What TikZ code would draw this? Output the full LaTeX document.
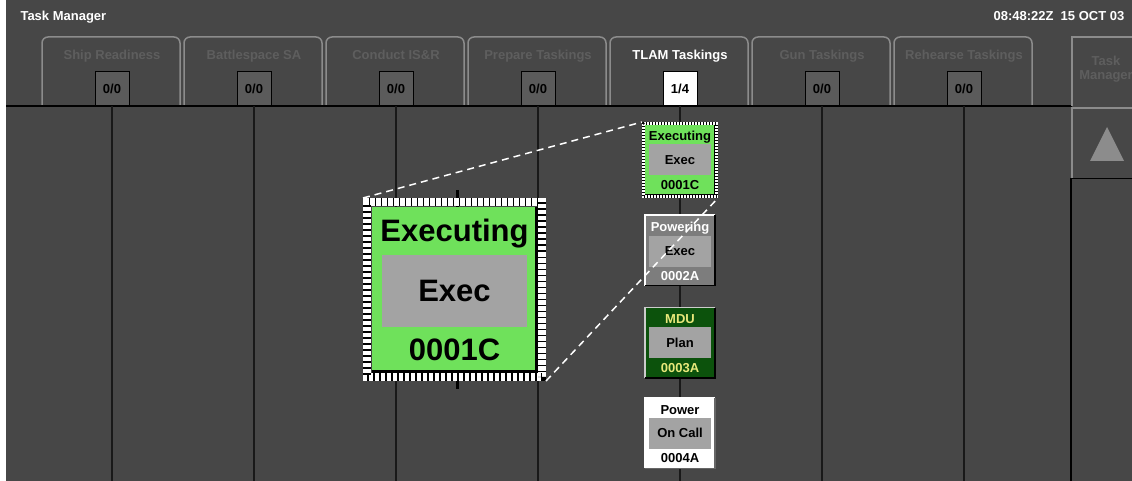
\documentclass[tikz,border=0pt]{standalone}
\usepackage{fontspec}
\setmainfont{Liberation Sans}
\usetikzlibrary{positioning}
\definecolor{panelgray}{HTML}{474747}
\definecolor{tabline}{HTML}{8C8C8C}
\definecolor{dimtext}{HTML}{5E5E5E}
\definecolor{cntgray}{HTML}{5B5B5B}
\definecolor{execgreen}{HTML}{6FE15B}
\definecolor{boxgray}{HTML}{A3A3A3}
\definecolor{powgray}{HTML}{7D7D7D}
\definecolor{mdugreen}{HTML}{0C520C}
\definecolor{mduyellow}{HTML}{E8E87A}
\begin{document}
\begin{tikzpicture}[x=1pt,y=-1pt,
        headtext/.style={font=\fontsize{13}{15}\selectfont\bfseries,text=white,anchor=base west},
        tabedge/.style={draw=tabline,line width=1.5pt,rounded corners=6pt},
        tablabel/.style={font=\fontsize{13}{15}\selectfont\bfseries,text=dimtext,anchor=base},
        countbox/.style={draw=black,fill=cntgray,line width=1pt,minimum width=34pt,
            minimum height=34pt,inner sep=0pt,font=\fontsize{13}{15}\selectfont\bfseries},
        colline/.style={draw=black!90,line width=2pt},
        card/.style={minimum width=70pt,minimum height=70pt,inner sep=0pt},
        cardbox/.style={fill=boxgray,minimum width=62pt,minimum height=31pt,inner sep=0pt,
            font=\fontsize{13}{15}\selectfont\bfseries},
        cardtext/.style={font=\fontsize{13}{15}\selectfont\bfseries,anchor=base},
        bigtext/.style={font=\fontsize{31}{36}\selectfont\bfseries},
        selbox/.style={draw=white,inner sep=0pt,postaction={draw=black,dash pattern=#1}},
        zoomline/.style={draw=white,line width=1.5pt,dash pattern=on 7pt off 5pt}]
    \useasboundingbox (0,0) rectangle (1132,481);
    \clip (0,0) rectangle (1132,481);
    %% Background
    \fill[panelgray] (0,0) rectangle (1132,481);
    \fill[white] (0,0) rectangle (6,481);
    \coordinate (bot) at (0,481);
    %% Header
    \node[headtext] (title) at (17,21) {Task Manager};
    \node[headtext] (clock) at (990,21) {08:48:22Z\ \ 15 OCT 03};
    %% Tabs
    \draw[tabedge] (42,106) |- (180,37) -- (180,106);
    \node[tablabel] (ship) at (112,60) {Ship Readiness};
    \node[countbox] (cnt1) at (112,89) {0/0};
    \draw[tabedge] (184,106) |- (322,37) -- (322,106);
    \node[tablabel] (bsa) at (254,60) {Battlespace SA};
    \node[countbox] (cnt2) at (254,89) {0/0};
    \draw[tabedge] (326,106) |- (464,37) -- (464,106);
    \node[tablabel] (isr) at (396,60) {Conduct IS\&R};
    \node[countbox] (cnt3) at (396,89) {0/0};
    \draw[tabedge] (468,106) |- (606,37) -- (606,106);
    \node[tablabel] (prep) at (538,60) {Prepare Taskings};
    \node[countbox] (cnt4) at (538,89) {0/0};
    \draw[tabedge] (610,106) |- (748,37) -- (748,106);
    \node[tablabel,text=white] (tlam) at (680,60) {TLAM Taskings};
    \node[countbox,fill=white] (cnt5) at (680,89) {1/4};
    \draw[tabedge] (752,106) |- (890,37) -- (890,106);
    \node[tablabel] (gun) at (822,60) {Gun Taskings};
    \node[countbox] (cnt6) at (822,89) {0/0};
    \draw[tabedge] (894,106) |- (1032,37) -- (1032,106);
    \node[tablabel] (reh) at (964,60) {Rehearse Taskings};
    \node[countbox] (cnt7) at (964,89) {0/0};
    \draw[black,line width=2pt] (6,106.5) -- (1072,106.5);
    %% Task Manager button and scroll box
    \draw[tabline,line width=1.5pt] (1072,106) |- (1140,37);
    \node[tablabel] (tmbtn) at (1106,66) {Task};
    \node[tablabel] (tmbtn2) at (1106,80) {Manager};
    \draw[tabline,line width=1.5pt] (1072,178) |- (1140,108);
    \draw[black,line width=1.5pt] (1072,178.5) -- (1140,178.5);
    \fill[tabline] (1107,127) -- (1124,161) -- (1090,161) -- cycle;
    \draw[black,line width=1.5pt] (1071,178) -- (1071,481);
    %% Columns
    \draw[colline] (cnt1.south) -- (cnt1.south |- bot);
    \draw[colline] (cnt2.south) -- (cnt2.south |- bot);
    \draw[colline] (cnt3.south) -- (cnt3.south |- bot);
    \draw[colline] (cnt4.south) -- (cnt4.south |- bot);
    \draw[colline] (cnt5.south) -- (cnt5.south |- bot);
    \draw[colline] (cnt6.south) -- (cnt6.south |- bot);
    \draw[colline] (cnt7.south) -- (cnt7.south |- bot);
    %% Task cards
    \node[card,fill=execgreen] (c1) at (680,160) {};
    \node[card,fill=powgray,below=20pt of c1] (c2) {};
    \node[card,fill=mdugreen,below=22pt of c2] (c3) {};
    \node[card,fill=white,below=20pt of c3] (c4) {};
    \draw[black,line width=1.5pt] (c1.south west) -| (c1.north east);
    \draw[white,line width=1.5pt] (c2.south west) |- (c2.north east);
    \draw[black,line width=1.5pt] (c2.south west) -| (c2.north east);
    \draw[white!80!black,line width=1.5pt] (c3.south west) |- (c3.north east);
    \draw[black,line width=1.5pt] (c3.south west) -| (c3.north east);
    \draw[white,line width=1.5pt] (c4.south west) |- (c4.north east);
    \draw[black!60,line width=1.5pt] (c4.south west) -| (c4.north east);
    \node[cardbox] (b1) at (c1) {Exec};
    \node[cardbox] (b2) at ([yshift=-1pt]c2.center) {Exec};
    \node[cardbox] (b3) at (c3) {Plan};
    \node[cardbox] (b4) at (c4) {On Call};
    \node[cardtext] (s1) at ([yshift=-15.5pt]c1.north) {Executing};
    \node[cardtext] (n1) at ([yshift=5.5pt]c1.south) {0001C};
    \node[cardtext,text=white] (s2) at ([yshift=-16pt]c2.north) {Powering};
    \node[cardtext,text=white] (n2) at ([yshift=5.5pt]c2.south) {0002A};
    \node[cardtext,text=mduyellow] (s3) at ([yshift=-16pt]c3.north) {MDU};
    \node[cardtext,text=mduyellow] (n3) at ([yshift=5.5pt]c3.south) {0003A};
    \node[cardtext] (s4) at ([yshift=-16pt]c4.north) {Power};
    \node[cardtext] (n4) at ([yshift=5.5pt]c4.south) {0004A};
    \node[selbox={on 0.8pt off 2.2pt},line width=3pt,minimum size=73pt] (sel1) at (c1) {};
    %% Magnified card
    \node[card,fill=execgreen,minimum width=165pt,minimum height=165pt] (big) at (454.5,289.5) {};
    \draw[black,line width=3pt] ([xshift=2.5pt]big.north) -- ++(0,-17);
    \draw[black,line width=3pt] ([xshift=2.5pt]big.south) -- ++(0,17);
    \draw[black,line width=3.5pt] (big.south west) -| (big.north east);
    \node[cardbox,bigtext,minimum width=145pt,minimum height=72pt] (bigbox)
        at ([yshift=-1.5pt]big.center) {Exec};
    \node[bigtext,anchor=base] (bigs) at ([yshift=-35pt]big.north) {Executing};
    \node[bigtext,anchor=base] (bign) at ([yshift=12pt]big.south) {0001C};
    \node[selbox={on 1.5pt off 4.5pt},line width=8pt,minimum size=175pt] (bigsel) at (big) {};
    %% Zoom lines
    \draw[zoomline] (bigsel.north west) -- (sel1.north west);
    \draw[zoomline] (bigsel.south east) -- (sel1.south east);
\end{tikzpicture}
\end{document}
